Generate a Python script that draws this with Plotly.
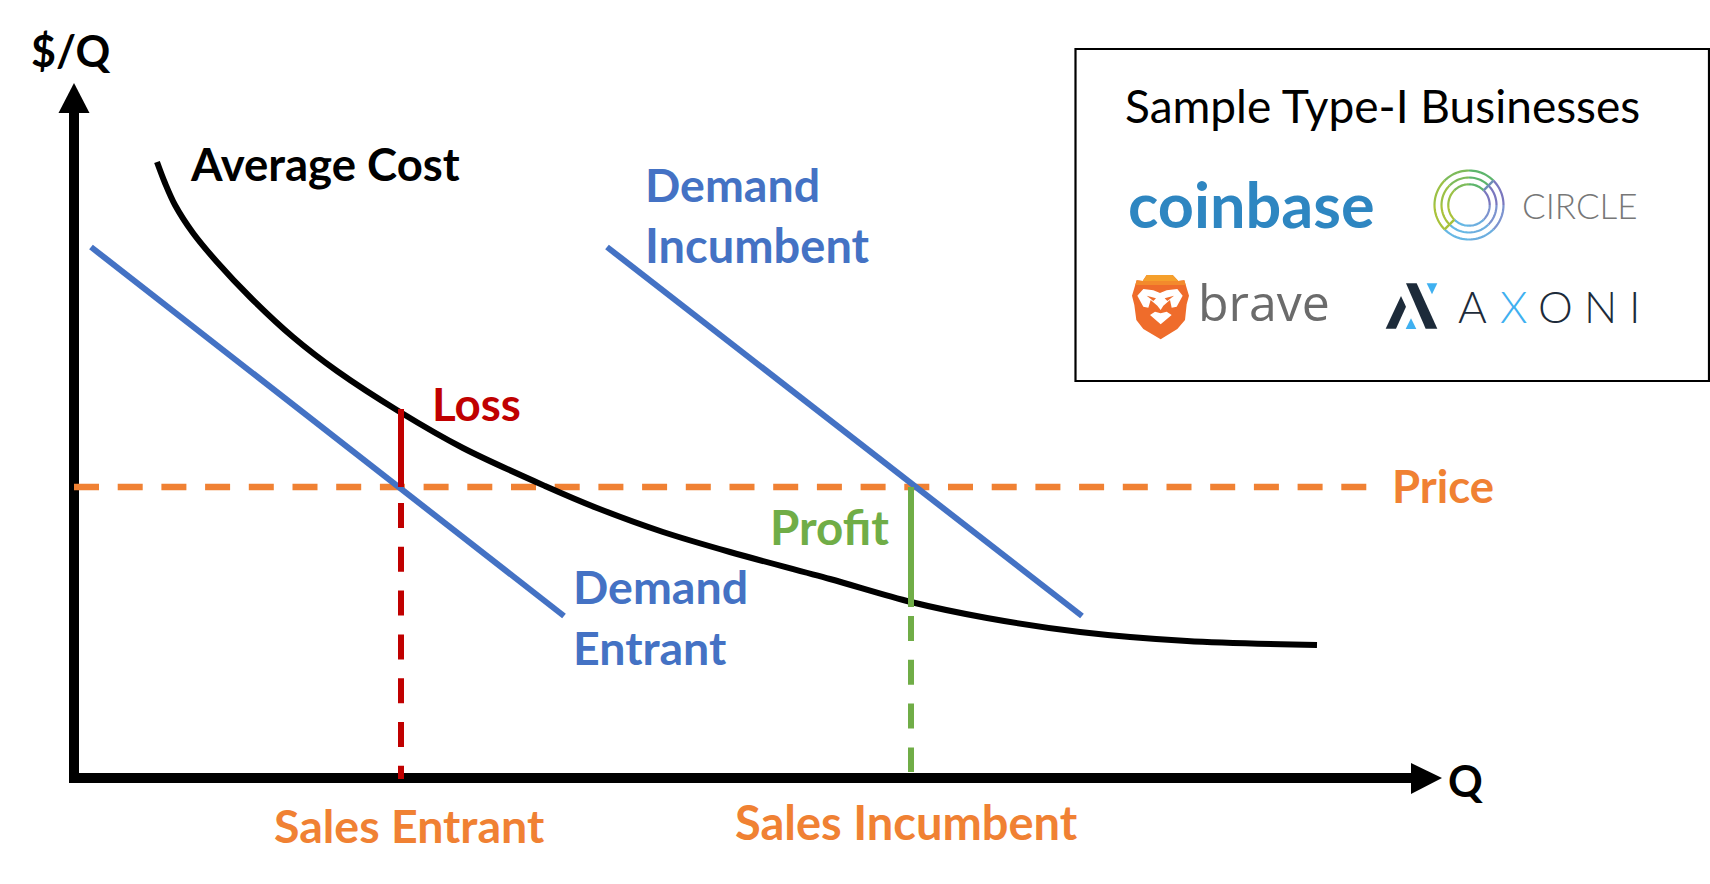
import math
import plotly.graph_objects as go

# ---- chart data, in plot units: Q to the right of the vertical axis, $/Q above the horizontal axis
ac_q = [83, 91, 101, 119, 143, 176, 219, 263, 326, 389, 471, 523, 589, 656, 756, 837, 913, 1006, 1113, 1243]
ac_cost = [616, 595, 573, 545, 516, 481, 441, 407, 366, 330, 292, 270, 246, 226, 199, 176, 160, 146, 137, 133]
entrant_q = [17, 490]
entrant_cost = [531, 162]
incumbent_q = [533, 1008]
incumbent_cost = [531, 162]
price_q = [0, 1294]
price_cost = [291, 291]
sales_entrant = 327
sales_incumbent = 837
loss_cost = [291, 369]
entrant_drop = [275, -1]
profit_cost = [291, 171]
incumbent_drop = [162, 6]
axis_top = 670
axis_right = 1342

X0, Y0 = 74, 778
BLUE, ORANGE, RED, GREEN = "#4472C4", "#F08133", "#C00000", "#70AD47"
FONT = "Lato"


def X(px):
    return px - X0


def Y(py):
    return Y0 - py


fig = go.Figure()


def line(x, y, color, width, dash=None, shape="linear"):
    fig.add_trace(go.Scatter(x=x, y=y, mode="lines", hoverinfo="skip", showlegend=False,
                             line=dict(color=color, width=width, dash=dash, shape=shape, smoothing=0.9)))


DASH = "25px,18.7px"
line([0, 0], [-5, axis_top], "#000000", 10)
line([-5, axis_right], [0, 0], "#000000", 10)
line(price_q, price_cost, ORANGE, 6.5, DASH)
line(ac_q, ac_cost, "#000000", 6, shape="spline")
line(entrant_q, entrant_cost, BLUE, 6)
line(incumbent_q, incumbent_cost, BLUE, 6)
line([sales_entrant] * 2, loss_cost, RED, 6)
line([sales_incumbent] * 2, profit_cost, GREEN, 6)
line([sales_incumbent] * 2, incumbent_drop, GREEN, 6, "25px,18.8px")
line([sales_entrant] * 2, entrant_drop, RED, 6, "25px,18.8px")

shapes = []


def poly(points, fill):
    d = "M" + " L".join(f"{X(a):.2f},{Y(b):.2f}" for a, b in points) + " Z"
    shapes.append(dict(type="path", path=d, fillcolor=fill, line=dict(width=0), xref="x", yref="y", layer="above"))


# axis arrow heads
poly([(74, 83), (58.5, 113), (89.5, 113)], "#000000")
poly([(1442, 778), (1411, 763), (1411, 794)], "#000000")

# box
shapes.append(dict(type="rect", x0=X(1075.5), x1=X(1709), y0=Y(49), y1=Y(381), xref="x", yref="y",
                   line=dict(color="#000000", width=2.2), fillcolor="rgba(0,0,0,0)"))


# ---- Circle logo
def arc(r, a0, a1, color, w=2.2, cx=1469, cy=205):
    n = 12
    pts = []
    for i in range(n + 1):
        a = math.radians(a0 + (a1 - a0) * i / n)
        pts.append((cx + r * math.cos(a), cy - r * math.sin(a)))
    d = "M" + " L".join(f"{X(a):.2f},{Y(b):.2f}" for a, b in pts)
    shapes.append(dict(type="path", path=d, line=dict(color=color, width=w), xref="x", yref="y", layer="above"))


ring_green = [(225, 180, "#A9C23A"), (180, 135, "#9CC145"), (135, 90, "#7DBB5A"), (90, 45, "#5DB56C")]
ring_blue = [(45, 0, "#7A77BE"), (0, -45, "#7C93CF"), (-45, -90, "#6CAEDF"), (-90, -135, "#66B7E4")]
for r in (34.5, 27.5, 20.7):
    for a0, a1, c in ring_green:
        arc(r, a0, a1, c)
    for a0, a1, c in ring_blue:
        arc(r, a0, a1, c)
for angle, color in ((45, "#6F8FB5"), (225, "#A9C23A")):
    a = math.radians(angle)
    d = (f"M{X(1469 + 20.7 * math.cos(a)):.2f},{Y(205 - 20.7 * math.sin(a)):.2f} "
         f"L{X(1469 + 34.5 * math.cos(a)):.2f},{Y(205 - 34.5 * math.sin(a)):.2f}")
    shapes.append(dict(type="path", path=d, line=dict(color=color, width=2.4), xref="x", yref="y", layer="above"))


# ---- Brave lion (zoom coordinates are 3x from 1120,265)
def bz(points):
    return [(1120 + a / 3, 265 + b / 3) for a, b in points]


poly(bz([(80, 30), (158, 30), (175, 48), (193, 46), (207, 92), (200, 118), (195, 165), (172, 192), (122, 223),
         (70, 192), (49, 165), (43, 120), (36, 92), (50, 46), (68, 48)]), "#EF6C2B")
poly(bz([(80, 30), (158, 30), (175, 48), (68, 48)]), "#F5A02C")
poly(bz([(68, 48), (175, 48), (193, 46), (197, 60), (46, 60), (50, 46)]), "#F38A2C")
poly(bz([(70, 72), (100, 76), (120, 84), (140, 76), (172, 72), (188, 92), (170, 125), (155, 128), (150, 105),
         (130, 122), (122, 135), (112, 122), (92, 105), (85, 128), (70, 125), (52, 92)]), "#FFFFFF")
poly(bz([(90, 150), (105, 140), (122, 145), (140, 140), (155, 150), (122, 178)]), "#FFFFFF")
poly(bz([(80, 92), (108, 100), (100, 108)]), "#EF6C2B")
poly(bz([(162, 92), (134, 100), (142, 108)]), "#EF6C2B")


# ---- Axoni mark (3x from 1375,270)
def ax(points):
    return [(1375 + a / 3, 270 + b / 3) for a, b in points]


poly(ax([(93, 40), (125, 40), (187, 176), (152, 176)]), "#1D2B3A")
poly(ax([(78, 78), (93, 110), (63, 176), (32, 176)]), "#1D2B3A")
poly(ax([(155, 40), (187, 40), (171, 73)]), "#3FB0F0")
poly(ax([(108, 145), (124, 177), (92, 177)]), "#3FB0F0")

annotations = []


def text(s, px, py, color, size, anchor="left", bold=True, family=FONT, weight=None):
    f = dict(color=color, size=size, family=family)
    if weight:
        f["weight"] = weight
    annotations.append(dict(text=f"<b>{s}</b>" if bold else s, x=X(px), y=Y(py), xref="x", yref="y",
                            showarrow=False, xanchor=anchor, yanchor="middle", align="left", font=f))


text("$/Q", 29, 50, "#000000", 43)
text("Q", 1446, 780, "#000000", 43)
text("Average Cost", 188, 163, "#000000", 45.5)
text("Demand", 643, 184, BLUE, 46.5)
text("Incumbent", 643, 245, BLUE, 47)
text("Demand", 571, 586, BLUE, 46.5)
text("Entrant", 571, 647, BLUE, 46.5)
text("Loss", 430, 403, RED, 45.7)
text("Profit", 768, 526, GREEN, 47.5)
text("Price", 1390, 485, ORANGE, 45.5)
text("Sales Entrant", 272, 825, ORANGE, 46.5)
text("Sales Incumbent", 733, 822, ORANGE, 47)
text("Sample Type-I Businesses", 1123, 105, "#000000", 46, bold=False)
text("coinbase", 1126, 203, "#2E86C1", 63, bold=True)
text("CIRCLE", 1520, 205, "#777777", 35, bold=False, weight=300)
text("brave", 1196, 302, "#6B6B6B", 50, bold=False, family="Open Sans")
for letter, cx, col in (("A", 1472, "#1D2B3A"), ("X", 1513, "#3FB0F0"), ("O", 1555, "#1D2B3A"),
                        ("N", 1600, "#1D2B3A"), ("I", 1634, "#1D2B3A")):
    text(letter, cx, 306, col, 44, anchor="center", bold=False, weight=300)

axis = dict(visible=False, fixedrange=True)
fig.update_layout(width=1710, height=884, margin=dict(l=0, r=0, t=0, b=0), autosize=False,
                  paper_bgcolor="#FFFFFF", plot_bgcolor="#FFFFFF", showlegend=False,
                  xaxis=dict(range=[-X0, 1710 - X0], **axis), yaxis=dict(range=[Y0 - 884, Y0], **axis),
                  shapes=shapes, annotations=annotations)
fig.write_html("out.html", config=dict(displayModeBar=False),
               post_script="document.body.style.margin='0';document.body.style.overflow='hidden';")
